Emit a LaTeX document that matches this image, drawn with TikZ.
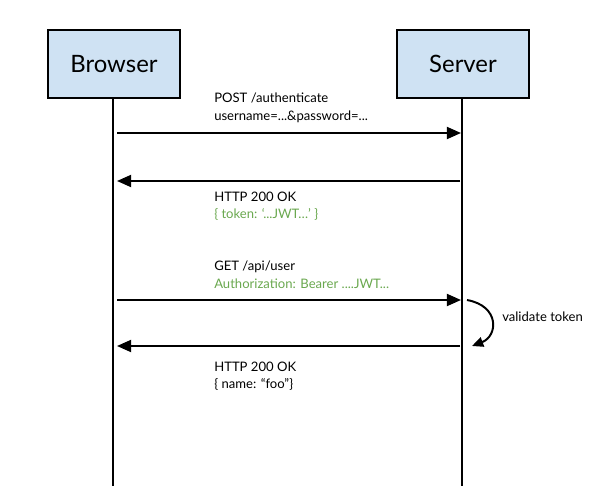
\documentclass[tikz,border=0pt]{standalone}
\usepackage{fontspec}
\setmainfont{Lato}
\usetikzlibrary{arrows.meta}
\definecolor{boxblue}{HTML}{CFE2F3}
\definecolor{msggreen}{HTML}{6AA84F}
\begin{document}
\begin{tikzpicture}[x=0.025cm,y=-0.025cm,
	actor/.style={draw,line width=1.5pt,fill=boxblue,minimum width=3.3cm,minimum height=1.7cm,font=\fontsize{17}{20}\selectfont},
	msg/.style={line width=1.4pt,-{Triangle[length=10pt,width=8.5pt]}},
	note/.style={anchor=north west,align=left,inner sep=0pt,font=\fontsize{9.3}{12.2}\selectfont}]

		\useasboundingbox (0,0) rectangle (600,491);

		\node (browser) at (114,64) [actor] {Browser};
		\node (server) at (463,64) [actor] {Server};

		\coordinate (bEnd) at (113,486);
		\coordinate (sEnd) at (462,486);
		\draw [line width=1.4pt] (browser.south -| bEnd) -- (bEnd);
		\draw [line width=1.4pt] (server.south -| sEnd) -- (sEnd);

		% request / response pairs
		\coordinate (b1) at (117,133); \coordinate (s1) at (461,133);
		\coordinate (s2) at (460,181); \coordinate (b2) at (117,181);
		\coordinate (b3) at (117,300); \coordinate (s3) at (461,300);
		\coordinate (s4) at (460,346); \coordinate (b4) at (117,346);

		\draw [msg] (b1) -- (s1);
		\draw [msg] (s2) -- (b2);
		\draw [msg] (b3) -- (s3);
		\draw [msg] (s4) -- (b4);

		\node (post) at (214,93) [note] {POST /authenticate\\username=...\&password=...};
		\node (ok1) at (214,192) [note] {HTTP 200 OK\\\textcolor{msggreen}{\{ token: `...JWT…' \}}};
		\node (get) at (214,261) [note] {GET /api/user\\\textcolor{msggreen}{Authorization: Bearer ....JWT...}};
		\node (ok2) at (214,362) [note] {HTTP 200 OK\\\{ name: “foo”\}};

		\coordinate (v1) at (467,300);
		\coordinate (v2) at (472,346);
		\draw [line width=1.4pt,-{Triangle[length=8pt,width=7pt]}] (v1) .. controls (500,306) and (498,336) .. (v2);
		\node (validate) at (502,312) [note] {validate token};

		\end{tikzpicture}
\end{document}
